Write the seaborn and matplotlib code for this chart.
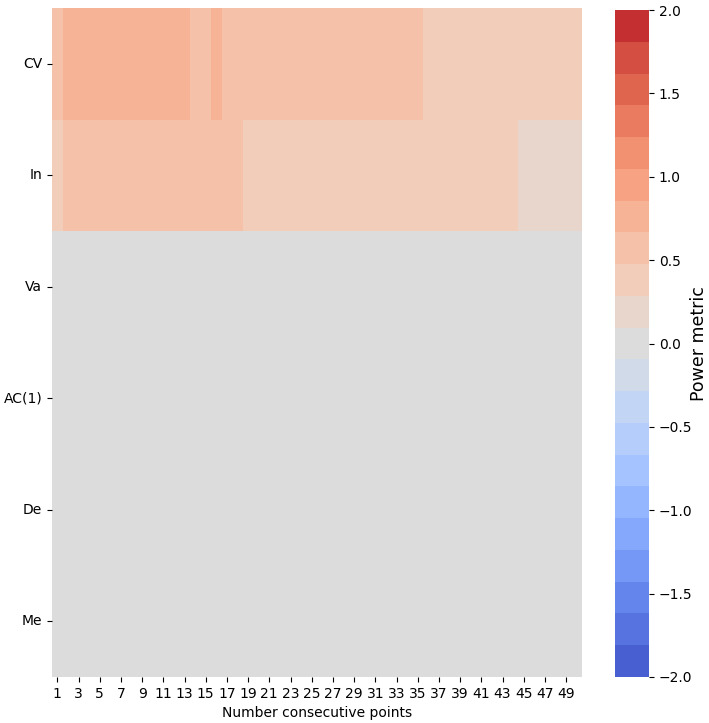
import numpy as np
import pandas as pd
import seaborn as sns
import matplotlib
matplotlib.use("Agg")
import matplotlib.pyplot as plt
from matplotlib.colors import ListedColormap

rows = ["CV", "In", "Va", "AC(1)", "De", "Me"]
points = list(range(1, 51))

# Power metric per row, per number of consecutive points (1..50)
cv_vals = [0.6] + [0.8] * 12 + [0.6] * 2 + [0.8] + [0.6] * 19 + [0.4] * 15
in_vals = [0.4] + [0.6] * 17 + [0.4] * 26 + [0.2] * 6
va_vals = [0.0] * 50
ac_vals = [0.0] * 50
de_vals = [0.0] * 50
me_vals = [0.0] * 50

df = pd.DataFrame([cv_vals, in_vals, va_vals, ac_vals, de_vals, me_vals],
                  index=rows, columns=points)

fig = plt.figure(figsize=(7.09, 7.23), dpi=100)
ax = fig.add_axes([52 / 709, 1 - 677 / 723, 530 / 709, 669 / 723])
cax = fig.add_axes([615 / 709, 1 - 677 / 723, 34 / 709, 667 / 723])

cmap = ListedColormap(sns.color_palette("coolwarm", 21))

sns.heatmap(df, ax=ax, cbar_ax=cax, cmap=cmap, vmin=-2, vmax=2,
            xticklabels=2, yticklabels=True)
ax.set_xlabel("Number consecutive points", fontsize=10)
ax.set_ylabel("")
ax.tick_params(axis="x", labelsize=10, rotation=0)
ax.tick_params(axis="y", labelsize=10, rotation=0)
cax.tick_params(labelsize=10)
cax.set_yticks([-2, -1.5, -1, -0.5, 0, 0.5, 1, 1.5, 2])
cax.set_yticklabels(["\u22122.0", "\u22121.5", "\u22121.0", "\u22120.5", "0.0", "0.5", "1.0", "1.5", "2.0"])
cax.set_ylabel("Power metric", fontsize=12.5, labelpad=-2)

fig.savefig("out.png", dpi=100)
